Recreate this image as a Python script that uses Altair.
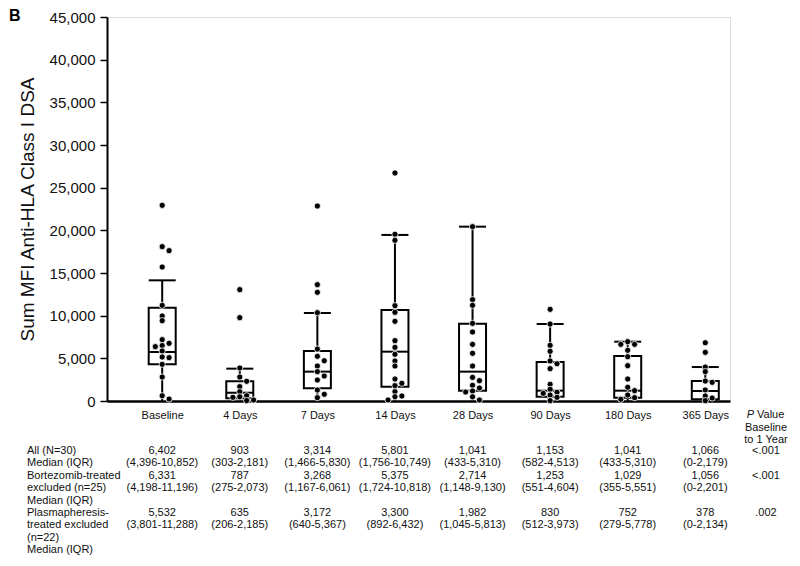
import json
import altair as alt
import pandas as pd

# ---------------- data ----------------
categories = ["Baseline", "4 Days", "7 Days", "14 Days", "28 Days",
              "90 Days", "180 Days", "365 Days"]

points_baseline = [22930, 18090, 17620, 15700, 11210, 9960, 9410, 7190, 6760,
                   6500, 6370, 5860, 5160, 5080, 4300, 2810, 620, 230]
points_4d = [13050, 9770, 3870, 2810, 2310, 1680, 1090, 620, 500, 430, 120, 50]
points_7d = [22850, 13630, 12740, 10350, 6090, 5240, 4720, 4100, 3440, 2930,
             2460, 1290, 790, 390]
points_14d = [26720, 19540, 18830, 11170, 10390, 9340, 7070, 6290, 5470, 4690,
              4100, 2580, 2070, 1800, 1090, 590, 500, 120]
points_28d = [20430, 11880, 11210, 9100, 8090, 6640, 5590, 4100, 2770, 2380,
              1840, 1520, 1170, 1050, 500, 120]
points_90d = [10740, 9020, 6520, 5820, 4690, 4370, 3790, 1960, 1370, 1020, 900,
              700, 430, 40]
points_180d = [6950, 6640, 6640, 5940, 5190, 4140, 2580, 1610, 1210, 700, 390, 200]
points_365d = [6830, 5700, 3980, 3440, 2340, 2190, 1290, 590, 350, 40]

box_q1 = [4300, 310, 1490, 1680, 1210, 500, 390, 200]
box_median = [5740, 970, 3440, 5780, 3440, 1210, 1210, 1170]
box_q3 = [10935, 2310, 5860, 10670, 9060, 4570, 5270, 2340]
whisker_high = [14140, 3790, 10310, 19460, 20430, 9020, 6950, 3980]
whisker_low = [0, 0, 0, 0, 0, 0, 0, 0]

all_median = ["6,402", "903", "3,314", "5,801", "1,041", "1,153", "1,041", "1,066"]
all_iqr = ["(4,396-10,852)", "(303-2,181)", "(1,466-5,830)", "(1,756-10,749)",
           "(433-5,310)", "(582-4,513)", "(433-5,310)", "(0-2,179)"]
bort_median = ["6,331", "787", "3,268", "5,375", "2,714", "1,253", "1,029", "1,056"]
bort_iqr = ["(4,198-11,196)", "(275-2,073)", "(1,167-6,061)", "(1,724-10,818)",
            "(1,148-9,130)", "(551-4,604)", "(355-5,551)", "(0-2,201)"]
plas_median = ["5,532", "635", "3,172", "3,300", "1,982", "830", "752", "378"]
plas_iqr = ["(3,801-11,288)", "(206-2,185)", "(640-5,367)", "(892-6,432)",
            "(1,045-5,813)", "(512-3,973)", "(279-5,778)", "(0-2,134)"]
p_values = ["<.001", "<.001", ".002"]
row_labels = ["All (N=30)\nMedian (IQR)",
              "Bortezomib-treated\nexcluded (n=25)\nMedian (IQR)",
              "Plasmapheresis-\ntreated excluded\n(n=22)\nMedian (IQR)"]

# ---------------- layout ----------------
W, H = 623, 384
X_DOMAIN = [0.353, 8.254]
Y_MAX = 45000
PX_PER_X = W / (X_DOMAIN[1] - X_DOMAIN[0])
PX_PER_Y = H / Y_MAX
FONT = "Liberation Sans"
TXT = "#111111"
FS = 11
LH = 12.3
P_COL = 659  # plot-area pixel x of the P value column centre

idx = list(range(1, 9))
box_df = pd.DataFrame({"idx": idx, "q1": box_q1, "med": box_median, "q3": box_q3,
                       "hi": whisker_high, "lo": whisker_low})


def swarm(vals, step=7.0, min_dist=4.6):
    placed, out = [], []
    for v in vals:
        yp = v * PX_PER_Y
        dx = 0.0
        for k in [0, 1, -1, 2, -2, 3, -3]:
            dx = k * step
            if all((dx - px) ** 2 + (yp - py) ** 2 >= min_dist ** 2 for px, py in placed):
                break
        placed.append((dx, yp))
        out.append(dx)
    return out


groups = [points_baseline, points_4d, points_7d, points_14d, points_28d,
          points_90d, points_180d, points_365d]
rows = []
for i, vals in enumerate(groups, start=1):
    vs = sorted(vals, reverse=True)
    for v, dx in zip(vs, swarm(vs)):
        rows.append({"idx": i, "xp": i + dx / PX_PER_X, "value": v})
pts_df = pd.DataFrame(rows)

xscale = alt.Scale(domain=X_DOMAIN, nice=False, zero=False)
yscale = alt.Scale(domain=[0, Y_MAX], nice=False)
label_expr = json.dumps(categories) + "[datum.value - 1]"
xaxis = alt.Axis(values=idx, labelExpr=label_expr, tickSize=0, labelFontSize=11,
                 labelPadding=8, labelColor=TXT, labelFont=FONT, domainWidth=2.5,
                 domainColor="black", grid=False, title=None)
yaxis = alt.Axis(values=list(range(0, 45001, 5000)), format=",.0f", grid=False,
                 tickSize=7, tickWidth=1.5, tickColor="black", domainWidth=2,
                 domainColor="black", labelFontSize=15, labelPadding=5,
                 labelColor=TXT, labelFont=FONT,
                 title="Sum MFI Anti-HLA Class I DSA", titleFontSize=19,
                 titleFontWeight="normal", titleColor=TXT, titleFont=FONT,
                 titlePadding=12)

X = alt.X("idx:Q", scale=xscale, axis=xaxis)

whisk = alt.Chart(box_df).mark_rule(color="black", strokeWidth=2).encode(
    x=X, y=alt.Y("lo:Q", scale=yscale, axis=yaxis), y2="hi:Q")
box = alt.Chart(box_df).mark_bar(size=27, fill="white", stroke="black",
                                 strokeWidth=2).encode(
    x=X, y=alt.Y("q1:Q", scale=yscale, axis=yaxis), y2="q3:Q")
med = alt.Chart(box_df).mark_tick(orient="horizontal", size=27, thickness=2,
                                  color="black", opacity=1).encode(
    x=X, y=alt.Y("med:Q", scale=yscale, axis=yaxis))
cap = alt.Chart(box_df).mark_tick(orient="horizontal", size=27, thickness=2,
                                  color="black", opacity=1).encode(
    x=X, y=alt.Y("hi:Q", scale=yscale, axis=yaxis))
pts = alt.Chart(pts_df).mark_circle(size=38, fill="black", opacity=1,
                                    stroke="white", strokeWidth=0.8).encode(
    x=alt.X("xp:Q", scale=xscale, axis=xaxis),
    y=alt.Y("value:Q", scale=yscale, axis=yaxis))

layers = [whisk, box, med, cap, pts]

# table of medians (IQR)
table_top = [428, 453, 490]  # plot-area pixel y of each block's first line
for med_list, iqr_list, ytop in [(all_median, all_iqr, table_top[0]),
                                 (bort_median, bort_iqr, table_top[1]),
                                 (plas_median, plas_iqr, table_top[2])]:
    tdf = pd.DataFrame({"idx": idx,
                        "t": [m + "\n" + q for m, q in zip(med_list, iqr_list)]})
    layers.append(alt.Chart(tdf).mark_text(
        align="center", baseline="top", fontSize=FS, font=FONT, color=TXT,
        lineBreak="\n", lineHeight=LH).encode(x=X, y=alt.value(ytop), text="t:N"))

lab_df = pd.DataFrame({"t": row_labels, "k": [0, 1, 2]})
for k, ytop in enumerate(table_top):
    layers.append(alt.Chart(lab_df[lab_df.k == k]).mark_text(
        align="left", baseline="top", fontSize=FS, font=FONT, color=TXT,
        lineBreak="\n", lineHeight=LH).encode(
        x=alt.value(-80), y=alt.value(ytop), text="t:N"))
    layers.append(alt.Chart(pd.DataFrame({"t": [p_values[k]]})).mark_text(
        align="center", baseline="top", fontSize=FS, font=FONT, color=TXT).encode(
        x=alt.value(P_COL), y=alt.value(ytop), text="t:N"))

hdr = pd.DataFrame({"t": ["x"]})
layers.append(alt.Chart(hdr).mark_text(
    align="right", baseline="top", fontSize=FS, font=FONT, color=TXT,
    fontStyle="italic").encode(x=alt.value(P_COL - 12), y=alt.value(392),
                               text=alt.value("P")))
layers.append(alt.Chart(hdr).mark_text(
    align="left", baseline="top", fontSize=FS, font=FONT, color=TXT).encode(
    x=alt.value(P_COL - 9), y=alt.value(392), text=alt.value("Value")))
layers.append(alt.Chart(hdr).mark_text(
    align="center", baseline="top", fontSize=FS, font=FONT, color=TXT,
    lineBreak="\n", lineHeight=LH).encode(
    x=alt.value(P_COL), y=alt.value(405), text=alt.value("Baseline\nto 1 Year")))
layers.append(alt.Chart(hdr).mark_text(
    align="left", baseline="top", fontSize=16, font=FONT, fontWeight="bold",
    color="black").encode(x=alt.value(-98), y=alt.value(-9), text=alt.value("B")))

chart = alt.layer(*layers).properties(
    width=W, height=H,
    autosize=alt.AutoSizeParams(type="none"),
    padding={"left": 99, "top": 9, "right": 62, "bottom": 157},
).configure_view(stroke=None).configure(background="white")

chart.save("out.html", embed_options={"renderer": "svg", "actions": False})
